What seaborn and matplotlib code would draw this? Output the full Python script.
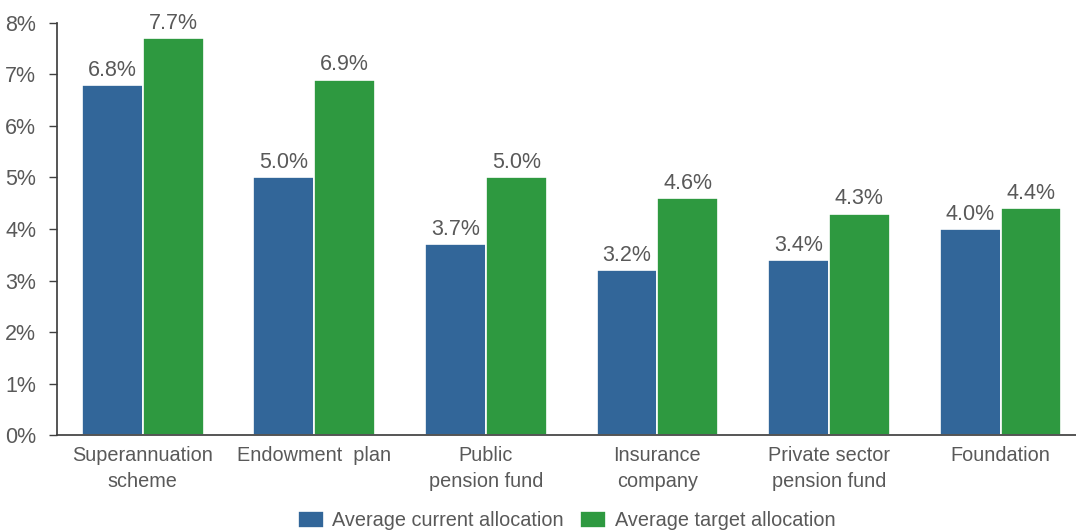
import pandas as pd
import numpy as np
import matplotlib
matplotlib.use("Agg")
import matplotlib.pyplot as plt
import seaborn as sns

# Data
categories = ["Superannuation\nscheme", "Endowment  plan", "Public\npension fund",
              "Insurance\ncompany", "Private sector\npension fund", "Foundation"]
current = [6.8, 5.0, 3.7, 3.2, 3.4, 4.0]
target = [7.7, 6.9, 5.0, 4.6, 4.3, 4.4]
series = ["Average current allocation", "Average target allocation"]
colors = ["#326699", "#2e9940"]

df = pd.DataFrame({
    "Category": categories * 2,
    "Series": [series[0]] * len(categories) + [series[1]] * len(categories),
    "Value": current + target,
})

sns.set_theme(style="white")
plt.rcParams["font.family"] = ["Liberation Sans", "DejaVu Sans"]
grey = "#595959"

fig = plt.figure(figsize=(10.76, 5.32), dpi=100)
ax = fig.add_axes([0.053, 0.1823, 0.947, 0.7745])

sns.barplot(data=df, x="Category", y="Value", hue="Series", palette=colors,
            width=0.71, gap=0.0, edgecolor="white", linewidth=1.2,
            saturation=1, ax=ax)

for cont in ax.containers:
    ax.bar_label(cont, fmt="%.1f%%", padding=3, fontsize=15.5, color=grey)

ax.set_ylim(0, 8)
ax.set_xlim(-0.5, 5.44)
ax.set_yticks(range(0, 9))
ax.set_yticklabels([f"{i}%" for i in range(0, 9)])
ax.set_xlabel("")
ax.set_ylabel("")
ax.tick_params(axis="y", labelsize=15.5, colors="#404040", length=6, width=1,
               left=True, pad=9)
ax.tick_params(axis="x", labelsize=14.3, colors=grey, length=0, pad=8)
for lab in ax.get_yticklabels():
    lab.set_color(grey)
for lab in ax.get_xticklabels():
    lab.set_linespacing(1.45)

sns.despine(ax=ax, top=True, right=True)
ax.spines["left"].set_color("#404040")
ax.spines["bottom"].set_color("#404040")

ax.legend(loc="lower center", bbox_to_anchor=(0.5, -0.275), ncol=2, frameon=False,
          fontsize=14.3, handlelength=1.3, handleheight=0.9, columnspacing=0.8,
          handletextpad=0.45, labelcolor=grey)

fig.savefig("out.png", dpi=100)
